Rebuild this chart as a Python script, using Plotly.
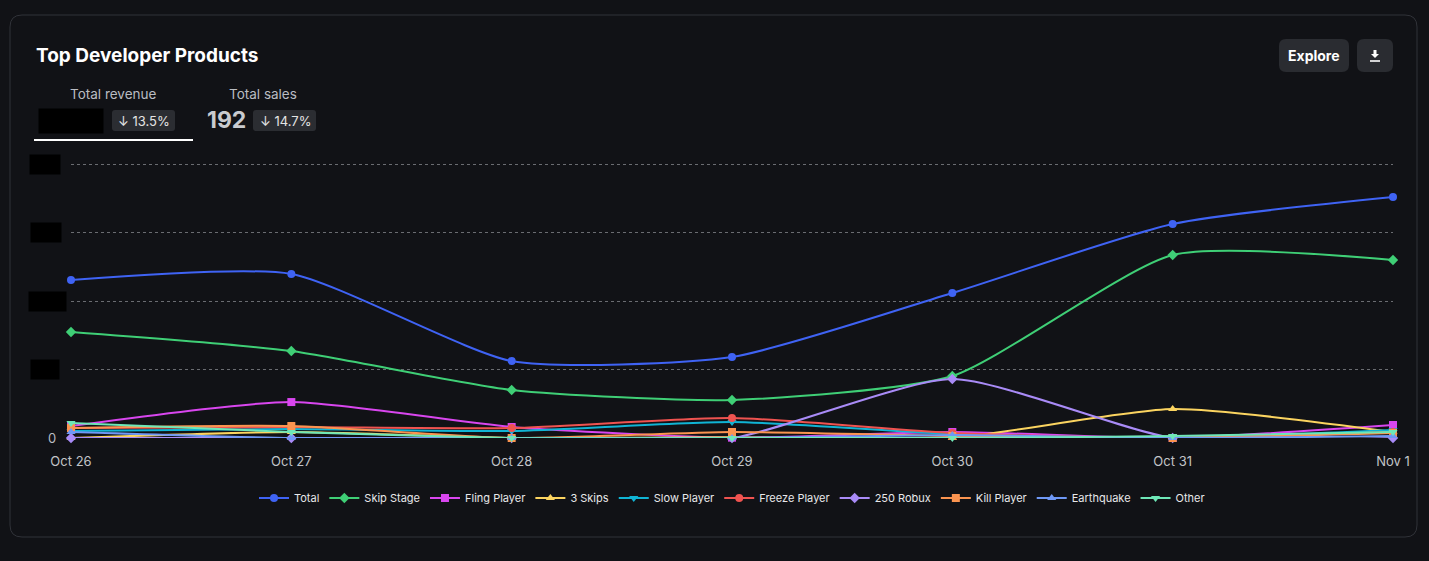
import plotly.graph_objects as go

# ---------------- data ----------------
dates = ["Oct 26", "Oct 27", "Oct 28", "Oct 29", "Oct 30", "Oct 31", "Nov 1"]

total         = [2305, 2394, 1124, 1182, 2117, 3124, 3518]
skip_stage    = [1547, 1270, 701, 555, 905, 2672, 2599]
fling_player  = [175, 525, 161, 5, 88, 0, 190]
three_skips   = [0, 88, 0, 10, 0, 423, 88]
slow_player   = [102, 131, 102, 234, 58, 0, 117]
freeze_player = [146, 161, 146, 292, 73, 0, 88]
robux_250     = [0, 0, 0, 0, 861, 0, 0]
kill_player   = [146, 175, 0, 88, 29, 0, 73]
earthquake    = [88, 0, 0, 0, 44, 0, 29]
other         = [220, 88, 0, 0, 0, 30, 88]

series_names = ["Total", "Skip Stage", "Fling Player", "3 Skips", "Slow Player",
                "Freeze Player", "250 Robux", "Kill Player", "Earthquake", "Other"]
series_values = [total, skip_stage, fling_player, three_skips, slow_player,
                 freeze_player, robux_250, kill_player, earthquake, other]
colors = ["#3f63f4", "#3fcf76", "#d946ef", "#fbd460", "#10b4d4",
          "#ef5350", "#a98bf7", "#fb9450", "#6f98f5", "#6ee7b7"]
symbols = ["circle", "diamond", "square", "triangle-up", "triangle-down",
           "circle", "diamond", "square", "triangle-up", "triangle-down"]

y_grid = [1000, 2000, 3000, 4000]
y_labels = ["1.0K", "2,000", "3.0K", "4.0K"]  # redacted in the reference

# ---------------- layout helpers (pixel -> paper) ----------------
W, H = 1429, 561
L, R, T, B = 71, 1393, 164, 438
PAD = 3
T2 = T - PAD
def px(x): return (x - L) / (R - L)
def py(y): return (B - y) / (B - T2)

def rrect(x0, y0, x1, y1, r):
    return (f"M {px(x0 + r)},{py(y0)} L {px(x1 - r)},{py(y0)} "
            f"Q {px(x1)},{py(y0)} {px(x1)},{py(y0 + r)} "
            f"L {px(x1)},{py(y1 - r)} Q {px(x1)},{py(y1)} {px(x1 - r)},{py(y1)} "
            f"L {px(x0 + r)},{py(y1)} Q {px(x0)},{py(y1)} {px(x0)},{py(y1 - r)} "
            f"L {px(x0)},{py(y0 + r)} Q {px(x0)},{py(y0)} {px(x0 + r)},{py(y0)} Z")

BG = "#111216"
FONT = "Inter, Lato, sans-serif"

fig = go.Figure()
for name, vals, c, s in zip(series_names, series_values, colors, symbols):
    fig.add_trace(go.Scatter(
        x=dates, y=vals, name=name, mode="lines+markers",
        line=dict(color=c, width=2, shape="spline", smoothing=0.6),
        marker=dict(color=c, symbol=s, size=8),
        cliponaxis=False,
    ))

shapes = []
shapes.append(dict(type="path", xref="paper", yref="paper", path=rrect(10, 15, 1417, 537, 12),
                   line=dict(color="#303238", width=1), fillcolor="rgba(0,0,0,0)", layer="below"))
for x0, x1 in [(112, 175), (253, 316)]:
    shapes.append(dict(type="path", xref="paper", yref="paper", path=rrect(x0, 110, x1, 131, 3),
                       line=dict(width=0), fillcolor="#2b2d32"))
shapes.append(dict(type="line", xref="paper", yref="paper", x0=px(34), x1=px(193), y0=py(140), y1=py(140),
                   line=dict(color="#ffffff", width=2)))
shapes.append(dict(type="path", xref="paper", yref="paper", path=rrect(1279, 39, 1349, 72, 7),
                   line=dict(width=0), fillcolor="#2a2c31"))
shapes.append(dict(type="path", xref="paper", yref="paper", path=rrect(1357, 39, 1393, 72, 7),
                   line=dict(width=0), fillcolor="#2a2c31"))
shapes.append(dict(type="path", xref="paper", yref="paper",
                   path=(f"M {px(1373.5)},{py(50)} L {px(1376.5)},{py(50)} L {px(1376.5)},{py(54)} "
                         f"L {px(1379)},{py(54)} L {px(1375)},{py(58)} L {px(1371)},{py(54)} "
                         f"L {px(1373.5)},{py(54)} Z"),
                   line=dict(width=0), fillcolor="#ffffff"))
shapes.append(dict(type="line", xref="paper", yref="paper", x0=px(1370), x1=px(1380), y0=py(61), y1=py(61),
                   line=dict(color="#ffffff", width=1.6)))

ann = []
def text(x, y, t, size, color, xanchor="center", bg=None, family=FONT):
    d = dict(xref="paper", yref="paper", x=px(x), y=py(y), text=t, showarrow=False,
             xanchor=xanchor, yanchor="middle", font=dict(size=size, color=color, family=family))
    if bg:
        d["bgcolor"] = bg
        d["borderpad"] = 2
    ann.append(d)

text(34, 56, "<b>Top Developer Products</b>", 19, "#ffffff", xanchor="left")
text(113, 94, "Total revenue", 13.5, "#b9bcc2")
text(263, 94, "Total sales", 13.5, "#b9bcc2")
text(71, 121, "12,3456", 16, "#000000", bg="#000000")
text(144, 121, "↓ 13.5%", 13, "#e4e4e4")
text(226, 120, "<b>192</b>", 23, "#c9cbcf")
text(285, 121, "↓ 14.7%", 13, "#e4e4e4")
text(1314, 56, "<b>Explore</b>", 14, "#ffffff")
text(58, 438, "0", 13, "#b9bcc2", xanchor="right")
blob_x = [45, 47, 46, 45]
for v, lab, bx in zip(y_grid, y_labels, blob_x):
    text(bx, B - (B - T) * v / y_grid[-1], lab, 12, "#000000", bg="#000000")

ymax = y_grid[-1] * (B - T2) / (B - T)

fig.update_layout(
    width=W, height=H,
    paper_bgcolor=BG, plot_bgcolor=BG,
    margin=dict(l=L, r=W - R, t=T2, b=H - B),
    font=dict(family=FONT, color="#c9cbcf"),
    xaxis=dict(type="category", range=[0, len(dates) - 1], showgrid=False, zeroline=False,
               showline=False, ticks="", tickfont=dict(size=13, color="#c2c4c8"), ticklabelstandoff=14),
    yaxis=dict(range=[0, ymax], tickvals=y_grid, showticklabels=False, showgrid=True,
               gridcolor="#6a6c71", griddash="3px,3px", gridwidth=1, zeroline=False, showline=False),
    legend=dict(orientation="h", x=0.5, xanchor="center", y=py(498), yanchor="middle",
                font=dict(size=11, color="#e8e8ea"), bgcolor="rgba(0,0,0,0)"),
    shapes=shapes, annotations=ann, showlegend=True,
)

fig.write_html("out.html", config={"displayModeBar": False},
               post_script="document.body.style.margin='0';document.body.style.background='%s';" % BG)
